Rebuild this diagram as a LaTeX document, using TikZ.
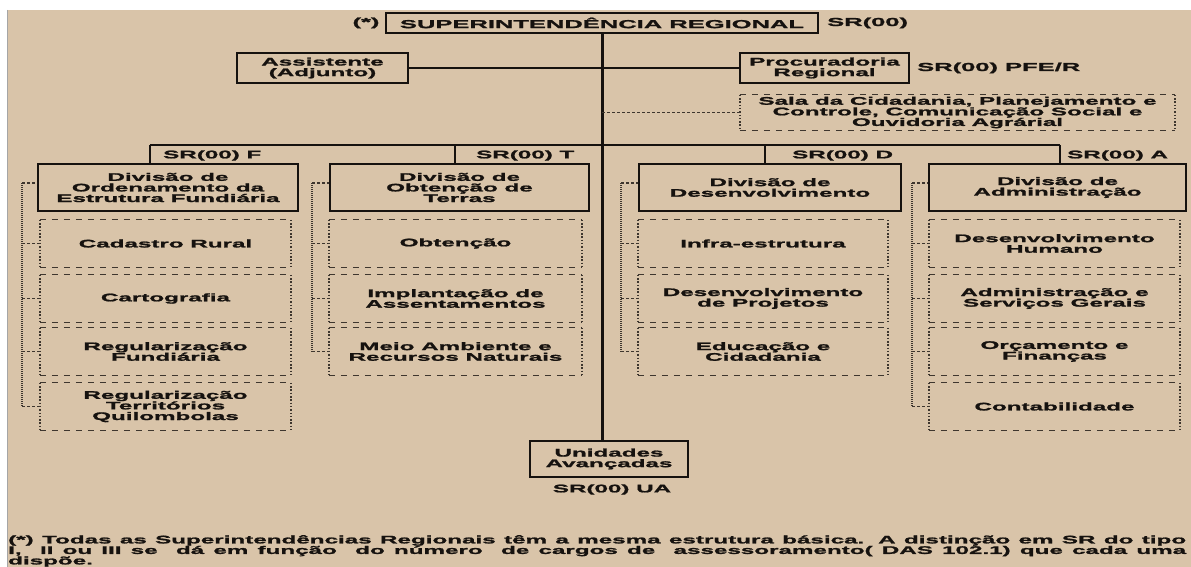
\documentclass[tikz,border=0pt]{standalone}
\usepackage{fontspec}
% wide, heavy sans used throughout the chart
\newfontfamily\wf{Liberation Sans}[FakeStretch=2.2, FakeBold=1.6]
\definecolor{papel}{RGB}{217,196,169}
\definecolor{tinta}{RGB}{22,18,15}
\definecolor{ponto}{RGB}{62,54,46}

% dashed top/bottom and dotted sides of a subordinate box
\newcommand\contorno[1]{%
  \draw[hdash] (#1.north west) -- (#1.north east) (#1.south west) -- (#1.south east);
  \draw[vdot] (#1.north west) -- (#1.south west) (#1.north east) -- (#1.south east);
}

\begin{document}
\begin{tikzpicture}[x=1pt,y=-1pt,
  txt/.style={font=\wf\bfseries\fontsize{11}{10.6}\selectfont, text=tinta, align=center, inner sep=0pt},
  toptxt/.style={txt, font=\wf\bfseries\fontsize{11.6}{11}\selectfont},
  solidbox/.style={txt, draw=tinta, line width=2pt},
  subbox/.style={txt, minimum height=47pt},
  hdash/.style={ponto, line width=1.3pt, dash pattern=on 6pt off 6pt},
  vdot/.style={ponto, line width=1.5pt, dash pattern=on 1.5pt off 1.8pt},
  conn/.style={tinta, line width=2pt},
  tronco/.style={tinta, line width=3pt},
  coluna/.style={ponto, line width=1.6pt, dash pattern=on 1pt off 1pt},
  ramo/.style={ponto, line width=1.2pt, dash pattern=on 3pt off 2pt},
]
% page: white margin, tan sheet
\useasboundingbox (0,0) rectangle (1191,567);
\fill[white] (0,0) rectangle (1191,567);
\fill[papel] (7,10) rectangle (1191,567);
\draw[black!35, line width=0.8pt] (7,10) -- (7,567);

% ---- top level ----
\node[toptxt] (ast) at (366,23) {(*)};
\node[solidbox, toptxt, draw=tinta, line width=2pt, minimum width=432pt, minimum height=20pt] (sr) at (602,23) {SUPERINTENDÊNCIA REGIONAL};
\node[toptxt, anchor=west] (srcod) at (827,23) {SR(00)};

% ---- advisory units ----
\node[solidbox, minimum width=171pt, minimum height=30pt] (assist) at (322.5,68) {Assistente\\(Adjunto)};
\node[solidbox, minimum width=169pt, minimum height=30pt] (procur) at (824.5,68) {Procuradoria\\Regional};
\node[toptxt, anchor=west] (pfecod) at (917,68) {SR(00) PFE/R};
\node[txt, minimum width=435pt, minimum height=35pt] (sala) at (957.5,112.5) {Sala da Cidadania, Planejamento e\\Controle, Comunicação Social e\\Ouvidoria Agrárial};
\contorno{sala}

% ---- divisions ----
\node[solidbox, minimum width=260pt, minimum height=47pt] (div1) at (168,187.5) {Divisão de\\Ordenamento da\\Estrutura Fundiária};
\node[solidbox, minimum width=259pt, minimum height=47pt] (div2) at (459.5,187.5) {Divisão de\\Obtenção de\\Terras};
\node[solidbox, minimum width=262pt, minimum height=47pt] (div3) at (770,187.5) {Divisão de\\Desenvolvimento};
\node[solidbox, minimum width=257pt, minimum height=47pt] (div4) at (1057.5,187.5) {Divisão de\\Administração};

% bar that feeds the divisions
\coordinate (b1) at (150,145);
\coordinate (b2) at (455,145);
\coordinate (b3) at (765,145);
\coordinate (b4) at (1060,145);
\node[txt, anchor=west] (cf) at (163,155.5) {SR(00) F};
\node[txt, anchor=west] (ct) at (476,155.5) {SR(00) T};
\node[txt, anchor=west] (cd) at (792,155.5) {SR(00) D};
\node[txt, anchor=west] (ca) at (1067,155.5) {SR(00) A};

% ---- sections, column 1 ----
\node[subbox, minimum width=251pt] (s11) at (165.5,243.5) {Cadastro Rural};
\node[subbox, minimum width=251pt] (s12) at (165.5,298.5) {Cartografia};
\node[subbox, minimum width=251pt] (s13) at (165.5,351.5) {Regularização\\Fundiária};
\node[subbox, minimum width=251pt] (s14) at (165.5,406.5) {Regularização\\Territórios\\Quilombolas};
% column 2
\node[subbox, minimum width=253pt] (s21) at (455.5,243.5) {Obtenção};
\node[subbox, minimum width=253pt] (s22) at (455.5,298.5) {Implantação de\\Assentamentos};
\node[subbox, minimum width=253pt] (s23) at (455.5,351.5) {Meio Ambiente e\\Recursos Naturais};
% column 3
\node[subbox, minimum width=250pt] (s31) at (763,243.5) {Infra-estrutura};
\node[subbox, minimum width=250pt] (s32) at (763,298.5) {Desenvolvimento\\de Projetos};
\node[subbox, minimum width=250pt] (s33) at (763,351.5) {Educação e\\Cidadania};
% column 4
\node[subbox, minimum width=251pt] (s41) at (1054.5,243.5) {Desenvolvimento\\Humano};
\node[subbox, minimum width=251pt] (s42) at (1054.5,298.5) {Administração e\\Serviços Gerais};
\node[subbox, minimum width=251pt] (s43) at (1054.5,351.5) {Orçamento e\\Finanças};
\node[subbox, minimum width=251pt] (s44) at (1054.5,406.5) {Contabilidade};
\foreach \n in {s11,s12,s13,s14,s21,s22,s23,s31,s32,s33,s41,s42,s43,s44}{\contorno{\n}}

% ---- advanced units ----
\node[solidbox, minimum width=158pt, minimum height=36pt] (unid) at (609,459) {Unidades\\Avançadas};
\node[txt] (uacod) at (612,489.5) {SR(00) UA};

% ---- connectors ----
\draw[tronco] (sr.south) -- (sr.south |- unid.north);
\draw[conn] (assist.east) -- (procur.west);
\draw[ramo] (sr.south |- sala.west) -- (sala.west);
\draw[conn] (b1) -- (b4);
\draw[conn] (b1) -- (b1 |- div1.north);
\draw[conn] (b2) -- (b2 |- div2.north);
\draw[conn] (b3) -- (b3 |- div3.north);
\draw[conn] (b4) -- (b4 |- div4.north);

% dotted spines linking each division to its sections
\coordinate (k1) at (22,183);
\coordinate (k2) at (312,183);
\coordinate (k3) at (621,183);
\coordinate (k4) at (912,183);
\draw[coluna] (k1) -- (k1 |- s14.west);
\draw[coluna] (k2) -- (k2 |- s23.west);
\draw[coluna] (k3) -- (k3 |- s33.west);
\draw[coluna] (k4) -- (k4 |- s44.west);
\draw[ramo] (k1) -- (k1 -| div1.west);
\draw[ramo] (k2) -- (k2 -| div2.west);
\draw[ramo] (k3) -- (k3 -| div3.west);
\draw[ramo] (k4) -- (k4 -| div4.west);
\foreach \k/\n in {k1/s11,k1/s12,k1/s13,k1/s14,k2/s21,k2/s22,k2/s23,k3/s31,k3/s32,k3/s33,k4/s41,k4/s42,k4/s43,k4/s44}{
  \draw[ramo] (\k |- \n.west) -- (\n.west);
}

% ---- footnote ----
\node[txt, align=left, anchor=north west, font=\wf\bfseries\fontsize{11}{10.5}\selectfont] (nota) at (8,535) {%
\makebox[1178pt][s]{(*) Todas as Superintendências Regionais têm a mesma estrutura básica. A distinção em SR do tipo}\\
\makebox[1178pt][s]{I,\ \ II ou III se\ \ dá em função\ \ do número\ \ de cargos de\ \ assessoramento( DAS 102.1) que cada uma}\\
dispõe.};
\end{tikzpicture}
\end{document}
